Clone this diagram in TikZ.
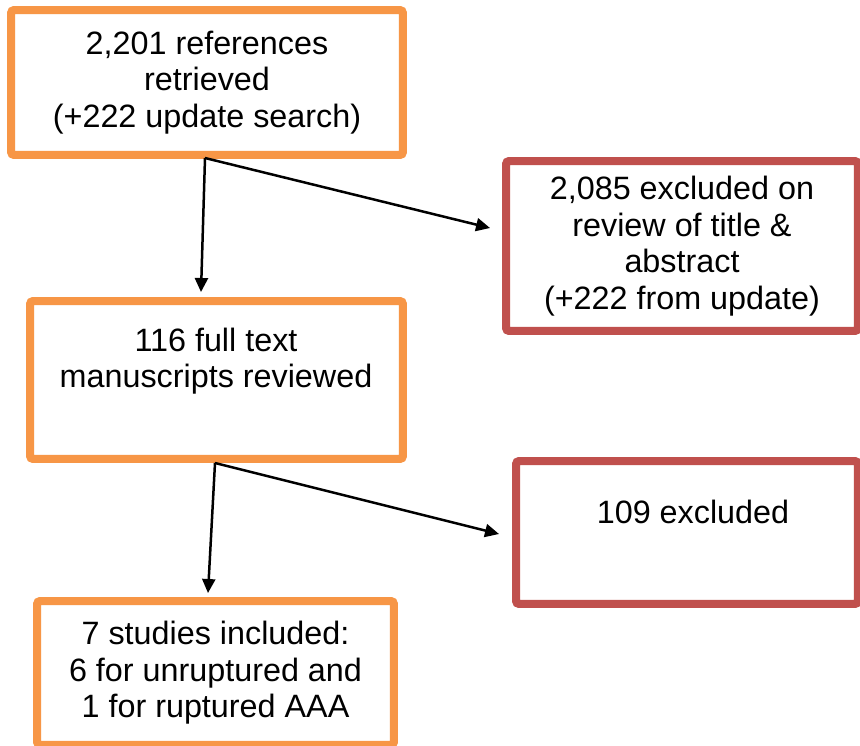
\documentclass[tikz,border=0pt]{standalone}
\usepackage{fontspec}
\setmainfont{Liberation Sans}
\usetikzlibrary{arrows.meta,calc}
\definecolor{boxorange}{HTML}{F79646}
\definecolor{boxred}{HTML}{C0504D}
\begin{document}
\begin{tikzpicture}[x=0.02cm, y=-0.02cm,
    stage/.style ={draw=boxorange, line width=0.16cm, rounded corners=0.06cm, fill=white,
      align=center, font=\fontsize{18.4}{20.8}\selectfont},
    dropped/.style ={stage, draw=boxred},
    words/.style ={align=center, font=\fontsize{18.4}{20.8}\selectfont},
    flow/.style ={line width=0.05cm, -{Triangle[length=0.28cm,width=0.26cm]}}]
   \useasboundingbox (0,0) rectangle (860,745);
   \node[stage, minimum width=7.84cm, minimum height=2.9cm] (refs) at (207,82.5)
      {2,201 references\\retrieved\\(+222 update search)};
   \node[dropped, minimum width=7.04cm, minimum height=3.4cm] (excl1) at (682,246)
      {2,085 excluded on\\review of title \&\\abstract\\(+222 from update)};
   \node[stage, minimum width=7.46cm, minimum height=3.16cm] (full) at (216.5,380) {};
   \node[words] (fulltxt) at (216,361) {116 full text\\manuscripts reviewed};
   \node[dropped, minimum width=6.84cm, minimum height=2.86cm] (excl2) at (687,532.5) {};
   \node[words] (excl2txt) at (693,512) {109 excluded};
   \node[stage, minimum width=7.14cm, minimum height=2.88cm] (incl) at (215.5,673)
      {7 studies included:\\6 for unruptured and\\1 for ruptured AAA};
   \coordinate (split1) at (205,158);
   \coordinate (split2) at (215,463);
   \draw[flow] (split1) -- ($(full.north)+(-15.5,-5)$);
   \draw[flow] (split1) -- ($(excl1.west)+(-12,-18)$);
   \draw[flow] (split2) -- ($(incl.north)+(-7.5,-4)$);
   \draw[flow] (split2) -- ($(excl2.west)+(-13,1.5)$);
 \end{tikzpicture}
\end{document}
